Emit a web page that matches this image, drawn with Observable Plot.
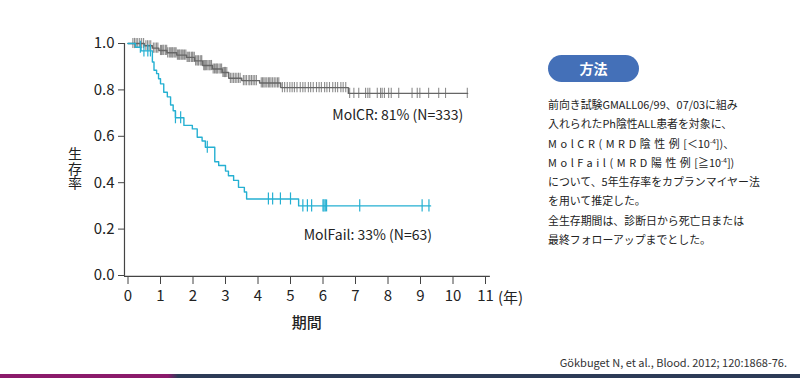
<!DOCTYPE html>
<html>
<head>
<meta charset="utf-8">
<script src="https://cdn.jsdelivr.net/npm/d3@7"></script>
<script src="https://cdn.jsdelivr.net/npm/@observablehq/plot@0.6"></script>
<style>
  html, body { margin: 0; padding: 0; background: #fff; }
  #wrap { position: relative; width: 800px; height: 378px; overflow: hidden; font-family: "Noto Sans CJK JP", "Noto Sans", sans-serif; color: #222; }
  #chart { position: absolute; left: 0; top: 0; }
  #pill { position: absolute; left: 548px; top: 55px; width: 91px; height: 27px; border-radius: 14px; background: #4470b8; color: #fff; font-weight: 700; font-size: 14px; line-height: 27px; text-align: center; }
  #para { position: absolute; left: 548px; top: 95px; font-size: 10.9px; line-height: 19.3px; color: #222; white-space: nowrap; }
  .sp { letter-spacing: 3.6px; }
  sup { font-size: 6.5px; vertical-align: 4px; line-height: 0; }
  #cite { position: absolute; right: 13px; top: 355px; font-size: 11px; line-height: 14px; color: #333; }
  #bar { position: absolute; left: 0; top: 374px; width: 800px; height: 4px; background: linear-gradient(to right, #8b1a6b 0, #8b1a6b 168px, #2d3b57 178px, #2d3b57 100%); }
  .ylab text { writing-mode: vertical-rl; letter-spacing: 0.5px; }
</style>
</head>
<body>
<div id="wrap">
  <div id="chart"></div>
  <div id="pill">方法</div>
  <div id="para">
    <div>前向き試験GMALL06/99、07/03に組み</div>
    <div>入れられたPh陰性ALL患者を対象に、</div>
    <div><span class="sp">MolCR(MRD陰性例</span>[＜10<sup>-4</sup>])、</div>
    <div><span class="sp">MolFail(MRD陽性例</span>[≧10<sup>-4</sup>])</div>
    <div>について、5年生存率をカプランマイヤー法</div>
    <div>を用いて推定した。</div>
    <div>全生存期間は、診断日から死亡日または</div>
    <div>最終フォローアップまでとした。</div>
  </div>
  <div id="cite">Gökbuget N, et al., Blood. 2012; 120:1868-76.</div>
  <div id="bar"></div>
</div>
<script>
// ---- Data ----
const xTicks = [0, 1, 2, 3, 4, 5, 6, 7, 8, 9, 10, 11];
const yTicks = [0, 0.2, 0.4, 0.6, 0.8, 1.0];

// MolCR Kaplan-Meier steps
const crTimes = [0, 0.5, 0.75, 0.95, 1.2, 1.5, 1.8, 2.05, 2.3, 2.6, 2.9, 3.1, 3.5, 4.05, 4.7, 6.78];
const crSurv  = [1.0, 0.99, 0.98, 0.97, 0.96, 0.95, 0.94, 0.925, 0.905, 0.89, 0.875, 0.85, 0.84, 0.83, 0.81, 0.785];
const crEnd = 10.45;
const crCensor = [0.15, 0.2, 0.25, 0.3, 0.36, 0.42, 0.48, 0.55, 0.6, 0.65, 0.7, 0.78, 0.83, 0.88, 0.92, 1.0, 1.03, 1.07, 1.1, 1.15, 1.19, 1.22, 1.27, 1.3, 1.33, 1.36, 1.38, 1.42, 1.45, 1.48, 1.52, 1.55, 1.58, 1.6, 1.64, 1.67, 1.7, 1.74, 1.78, 1.82, 1.85, 1.88, 1.9, 1.95, 1.98, 2.0, 2.04, 2.08, 2.12, 2.15, 2.17, 2.22, 2.25, 2.27, 2.33, 2.36, 2.38, 2.42, 2.46, 2.5, 2.53, 2.57, 2.62, 2.66, 2.7, 2.73, 2.75, 2.8, 2.84, 2.88, 2.92, 2.95, 2.97, 3.0, 3.04, 3.15, 3.2, 3.25, 3.3, 3.35, 3.4, 3.45, 3.55, 3.6, 3.65, 3.72, 3.75, 3.8, 3.85, 3.9, 3.95, 4.1, 4.14, 4.18, 4.22, 4.27, 4.32, 4.36, 4.4, 4.45, 4.5, 4.55, 4.6, 4.64, 4.75, 4.82, 4.9, 4.98, 5.05, 5.12, 5.2, 5.3, 5.38, 5.45, 5.55, 5.62, 5.7, 5.8, 5.88, 5.95, 6.05, 6.12, 6.2, 6.3, 6.38, 6.45, 6.55, 6.62, 6.7, 6.82, 6.95, 7.10, 7.31, 7.38, 7.44, 7.67, 7.77, 7.82, 7.89, 8.02, 8.10, 8.33, 8.74, 8.90, 8.98, 9.25, 9.56, 9.77, 10.44];

// MolFail Kaplan-Meier steps
const failTimes = [0, 0.23, 0.4, 0.75, 0.8, 0.88, 0.94, 1.0, 1.1, 1.21, 1.31, 1.39, 1.46, 1.72, 1.98, 2.13, 2.28, 2.38, 2.67, 2.79, 3.0, 3.09, 3.25, 3.4, 3.58, 3.65, 5.25];
const failSurv  = [1.0, 0.984, 0.968, 0.92, 0.885, 0.87, 0.848, 0.826, 0.79, 0.77, 0.735, 0.71, 0.68, 0.647, 0.632, 0.596, 0.58, 0.553, 0.49, 0.474, 0.45, 0.43, 0.41, 0.38, 0.36, 0.33, 0.30];
const failEnd = 9.31;
const failCensor = [0.38, 0.49, 0.61, 0.69, 1.46, 1.62, 2.44, 4.32, 4.45, 4.69, 5.0, 5.38, 5.52, 5.65, 6.0, 6.03, 6.07, 6.11, 7.13, 9.05, 9.26];

const seriesNames = ["MolCR", "MolFail"];
const seriesLabels = ["MolCR: 81% (N=333)", "MolFail: 33% (N=63)"];
const yLabelText = "生存率";

// ---- Build tables ----
function steps(times, surv, end) {
  const rows = times.map((t, i) => ({t, s: surv[i]}));
  rows.push({t: end, s: surv[surv.length - 1]});
  return rows;
}
function survAt(times, surv, t) {
  const i = d3.bisectRight(times, t) - 1;
  return surv[Math.max(0, i)];
}
const crLine = steps(crTimes, crSurv, crEnd);
const failLine = steps(failTimes, failSurv, failEnd);
const crTicks = crCensor.map(t => ({t, s: survAt(crTimes, crSurv, t)}));
const failTicksD = failCensor.map(t => ({t, s: survAt(failTimes, failSurv, t)}));

const gray = "#666", grayTick = "#8c8c8c", cyan = "#25b0d2";
const ink = "#222";

const chart = Plot.plot({
  width: 800,
  height: 378,
  marginTop: 43,
  marginBottom: 103,
  marginLeft: 127.5,
  marginRight: 315,
  x: {domain: [0, 11]},
  y: {domain: [0, 1]},
  style: {fontFamily: "'Noto Sans CJK JP', 'Noto Sans', sans-serif", fontSize: "15px", color: ink, background: "transparent"},
  marks: [
    // axis lines
    Plot.ruleX([-0.108], {y1: -0.004, y2: 1, stroke: "#444", strokeWidth: 1.2}),
    Plot.ruleY([-0.004], {x1: -0.108, x2: 11.15, stroke: "#444", strokeWidth: 1.2}),
    Plot.axisY({ticks: yTicks, tickFormat: d3.format(".1f"), tickSize: 6, tickPadding: 4, dx: -3.5, stroke: "#444", fill: ink, fontSize: 15, label: null}),
    Plot.axisX({ticks: xTicks, tickFormat: d => String(d), tickSize: 8, tickPadding: 6, dy: 1, stroke: "#444", fill: ink, fontSize: 15, label: null}),
    Plot.text(["(年)"], {x: 11, y: 0, dx: 25, dy: 23, fill: ink, fontSize: 15}),
    Plot.text(["期間"], {x: 5.5, y: 0, dy: 48, fill: ink, fontSize: 15, fontWeight: 500}),
    Plot.text([yLabelText], {frameAnchor: "left", y: 0.573, dx: -53, fill: ink, fontSize: 14, className: "ylab"}),
    // MolCR
    Plot.ruleX(crTicks, {x: "t", y1: d => d.s - 0.022, y2: d => d.s + 0.022, stroke: grayTick, strokeWidth: 1.1}),
    Plot.line(crLine, {x: "t", y: "s", curve: "step-after", stroke: gray, strokeWidth: 1.4}),
    // MolFail
    Plot.ruleX(failTicksD, {x: "t", y1: d => d.s - 0.026, y2: d => d.s + 0.026, stroke: cyan, strokeWidth: 1.2}),
    Plot.line(failLine, {x: "t", y: "s", curve: "step-after", stroke: cyan, strokeWidth: 1.4}),
    // labels
    Plot.text([seriesLabels[0]], {x: 8.3, y: 0.688, fill: ink, fontSize: 14}),
    Plot.text([seriesLabels[1]], {x: 7.38, y: 0.172, fill: ink, fontSize: 14})
  ]
});
document.getElementById("chart").appendChild(chart);
</script>
</body>
</html>
